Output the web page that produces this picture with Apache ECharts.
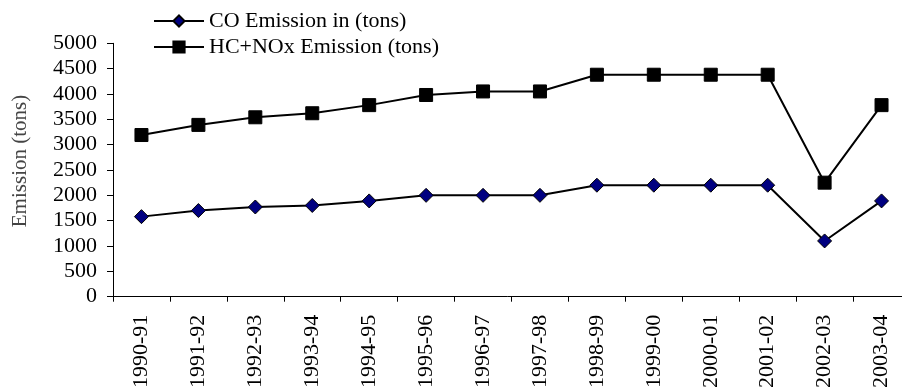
<!DOCTYPE html>
<html>
<head>
<meta charset="utf-8">
<title>Vehicle Emission Trend</title>
<script src="https://cdn.jsdelivr.net/npm/echarts@6/dist/echarts.min.js"></script>
<style>
  html, body { margin: 0; padding: 0; background: #ffffff; }
  #chart { width: 902px; height: 390px; }
</style>
</head>
<body>
<div id="chart"></div>
<script>
// Financial years on the category axis
const years = ['1990-91', '1991-92', '1992-93', '1993-94', '1994-95', '1995-96', '1996-97',
               '1997-98', '1998-99', '1999-00', '2000-01', '2001-02', '2002-03', '2003-04'];

// Emission values in tons
const coEmission = [1580, 1700, 1770, 1800, 1890, 2000, 2000, 2000, 2200, 2200, 2200, 2200, 1100, 1890];
const hcNoxEmission = [3190, 3390, 3540, 3620, 3780, 3980, 4050, 4050, 4380, 4380, 4380, 4380, 2250, 3780];

const seriesNames = ['CO Emission in (tons)', 'HC+NOx Emission (tons)'];
const yAxisTitle = 'Emission (tons)';

const FONT = '"Liberation Serif", "Times New Roman", serif';

const chart = echarts.init(document.getElementById('chart'), null, { renderer: 'canvas' });

chart.setOption({
  animation: false,
  backgroundColor: '#ffffff',
  grid: {
    left: 113,
    right: -8,
    top: 43.3,
    bottom: 93.3,
    containLabel: false,
    outerBoundsMode: 'none'
  },
  legend: {
    orient: 'vertical',
    left: 153,
    top: 10,
    padding: 0,
    itemWidth: 50,
    itemHeight: 14,
    itemGap: 4,
    textStyle: { fontFamily: FONT, fontSize: 22, color: '#000', lineHeight: 22 },
    data: seriesNames
  },
  xAxis: {
    type: 'category',
    data: years,
    boundaryGap: true,
    axisLine: { lineStyle: { color: '#000', width: 1 } },
    axisTick: { show: true, inside: false, length: 5, alignWithLabel: false,
                lineStyle: { color: '#000' } },
    axisLabel: {
      rotate: 90,
      interval: 0,
      margin: 18,
      fontFamily: FONT,
      fontSize: 22,
      color: '#000'
    },
    splitLine: { show: false }
  },
  yAxis: {
    type: 'value',
    min: 0,
    max: 5000,
    interval: 500,
    axisLine: { show: true, lineStyle: { color: '#000', width: 1 } },
    axisTick: { show: true, inside: false, length: 6, lineStyle: { color: '#000' } },
    axisLabel: {
      margin: 16,
      fontFamily: FONT,
      fontSize: 22,
      color: '#000',
      formatter: function (v) { return String(v); }
    },
    splitLine: { show: false }
  },
  graphic: [{
    type: 'text',
    x: 20,
    y: 161,
    rotation: Math.PI / 2,
    style: {
      text: yAxisTitle,
      fontFamily: FONT,
      fontSize: 21,
      fill: '#444',
      textAlign: 'center',
      textVerticalAlign: 'middle'
    }
  }],
  series: [
    {
      name: seriesNames[0],
      type: 'line',
      data: coEmission,
      symbol: 'diamond',
      symbolSize: [14, 14],
      lineStyle: { color: '#000', width: 2 },
      itemStyle: { color: '#000080', borderColor: '#000', borderWidth: 1 },
      z: 3
    },
    {
      name: seriesNames[1],
      type: 'line',
      data: hcNoxEmission,
      symbol: 'rect',
      symbolSize: 13,
      lineStyle: { color: '#000', width: 2 },
      itemStyle: { color: '#000', borderColor: '#000', borderWidth: 1 },
      z: 3
    }
  ]
});
</script>
</body>
</html>
